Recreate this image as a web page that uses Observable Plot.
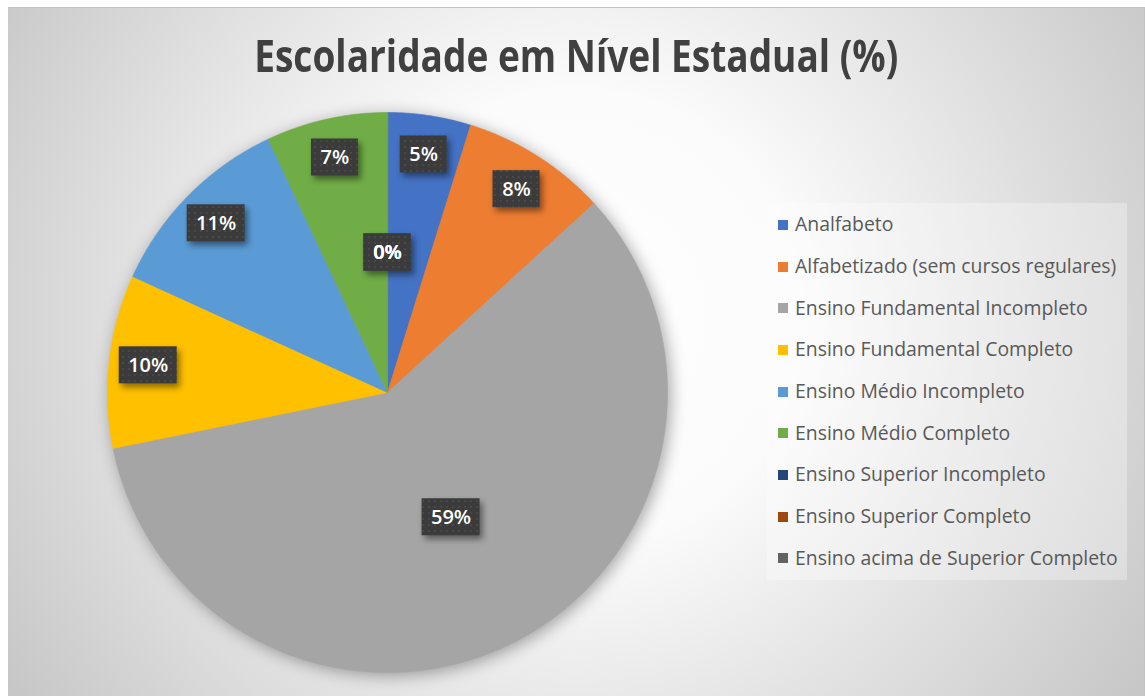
<!DOCTYPE html>
<html>
<head>
<meta charset="utf-8">
<script src="https://cdn.jsdelivr.net/npm/d3@7"></script>
<script src="https://cdn.jsdelivr.net/npm/@observablehq/plot@0.6"></script>
<style>
  html, body { margin: 0; padding: 0; background: #ffffff; }
  body { width: 1145px; height: 696px; overflow: hidden; position: relative; font-family: "Open Sans", "Noto Sans", sans-serif; }
  #frame {
    position: absolute; left: 8px; top: 7px; width: 1137px; height: 689px; box-sizing: border-box;
    border-top: 1px solid #c2c2c2; border-right: 1px solid #c2c2c2;
    background: radial-gradient(circle farthest-corner at 50% 45%, #ffffff 0%, #fbfbfb 33%, #c6c6c6 100%);
  }
  #title {
    position: absolute; left: 0; top: 32px; width: 1152px; text-align: center;
    font-size: 45px; font-weight: 700; line-height: 1; color: #404040; white-space: nowrap;
  }
  #title span { display: inline-block; transform-origin: 50% 50%; }
  #chart { position: absolute; left: 0; top: 0; }
  #chart g[aria-label="line"] { filter: drop-shadow(3px 3px 8px rgba(0,0,0,0.34)); }
  #chart g[aria-label="rect"] { filter: drop-shadow(3px 4px 3px rgba(0,0,0,0.45)); }
  #legend {
    position: absolute; left: 767px; top: 203px; width: 360px; height: 377px;
    background: rgba(255,255,255,0.3);
  }
  .item { position: absolute; left: 0; height: 41.7px; display: flex; align-items: center; white-space: nowrap; }
  .sw { width: 10px; height: 10px; margin-left: 11px; margin-right: 7px; position: relative; top: 1px; }
  .lab { font-size: 19.4px; color: #595959; line-height: 1; }
</style>
</head>
<body>
<svg width="0" height="0" style="position:absolute">
  <defs>
    <pattern id="dots" width="6" height="6" patternUnits="userSpaceOnUse">
      <rect width="6" height="6" fill="#3b3b3b"></rect>
      <circle cx="3" cy="3" r="0.8" fill="#575757"></circle>
    </pattern>
  </defs>
</svg>
<div id="frame"></div>
<div id="title"><span>Escolaridade em Nível Estadual (%)</span></div>
<div id="chart"></div>
<div id="legend"></div>
<script>
const categories = [
  "Analfabeto",
  "Alfabetizado (sem cursos regulares)",
  "Ensino Fundamental Incompleto",
  "Ensino Fundamental Completo",
  "Ensino Médio Incompleto",
  "Ensino Médio Completo",
  "Ensino Superior Incompleto",
  "Ensino Superior Completo",
  "Ensino acima de Superior Completo"
];
const values = [4.8, 8.4, 58.6, 10.0, 11.2, 7.0, 0, 0, 0];
const colors = ["#4472C4", "#ED7D31", "#A5A5A5", "#FFC000", "#5B9BD5", "#70AD47", "#264478", "#9E480E", "#636363"];

// layout
const W = 1145, H = 696, R = 280, cx = 387, cy = 392;

// build slices (angles clockwise from top)
const total = d3.sum(values);
let acc = 0;
const slices = categories.map((cat, i) => {
  const a0 = acc / total * 2 * Math.PI;
  acc += values[i];
  const a1 = acc / total * 2 * Math.PI;
  return {cat, value: values[i], a0, a1};
});

const points = [];
for (const s of slices) {
  if (s.value <= 0) continue;
  points.push({cat: s.cat, x: 0, y: 0});
  const n = Math.max(2, Math.ceil((s.a1 - s.a0) / (Math.PI / 360)));
  for (let k = 0; k <= n; k++) {
    const a = s.a0 + (s.a1 - s.a0) * k / n;
    points.push({cat: s.cat, x: Math.sin(a), y: Math.cos(a)});
  }
}

const labels = slices.map(s => {
  const share = s.value / total * 100;
  const r = (share >= 30 || share === 0) ? 0.5 : 0.86;
  const a = (s.a0 + s.a1) / 2;
  return {cat: s.cat, x: r * Math.sin(a), y: r * Math.cos(a), text: Math.round(share) + "%"};
});

const chart = Plot.plot({
  width: W, height: H,
  marginTop: 0, marginRight: 0, marginBottom: 0, marginLeft: 0,
  x: {domain: [-1, 1], range: [cx - R, cx + R], axis: null},
  y: {domain: [-1, 1], range: [cy + R, cy - R], axis: null},
  color: {domain: categories, range: colors},
  style: {background: "transparent", overflow: "visible"},
  marks: [
    Plot.line(points, {x: "x", y: "y", z: "cat", fill: "cat", stroke: "cat", strokeWidth: 0.6, curve: "linear-closed"}),
    Plot.rect(labels.filter(d => d.text.length === 2), {
      x1: "x", x2: "x", y1: "y", y2: "y",
      insetLeft: -23.5, insetRight: -23.5, insetTop: -18.5, insetBottom: -18.5,
      fill: "url(#dots)"
    }),
    Plot.rect(labels.filter(d => d.text.length === 3), {
      x1: "x", x2: "x", y1: "y", y2: "y",
      insetLeft: -29, insetRight: -29, insetTop: -18.5, insetBottom: -18.5,
      fill: "url(#dots)"
    }),
    Plot.text(labels, {
      x: "x", y: "y", text: "text", fill: "#ffffff",
      fontSize: 20, fontWeight: 600, fontFamily: "Open Sans, Noto Sans, sans-serif"
    })
  ]
});
document.getElementById("chart").appendChild(chart);

// legend
const legend = document.getElementById("legend");
categories.forEach((cat, i) => {
  const row = document.createElement("div");
  row.className = "item";
  row.style.top = (i * 41.7) + "px";
  const sw = document.createElement("div");
  sw.className = "sw";
  sw.style.background = colors[i];
  const lab = document.createElement("span");
  lab.className = "lab";
  lab.textContent = cat;
  row.appendChild(sw);
  row.appendChild(lab);
  legend.appendChild(row);
});

// fit title width to the reference's 644px
const ts = document.querySelector("#title span");
const tw = ts.getBoundingClientRect().width;
if (tw > 0) ts.style.transform = "scaleX(" + (644 / tw) + ")";
</script>
</body>
</html>
